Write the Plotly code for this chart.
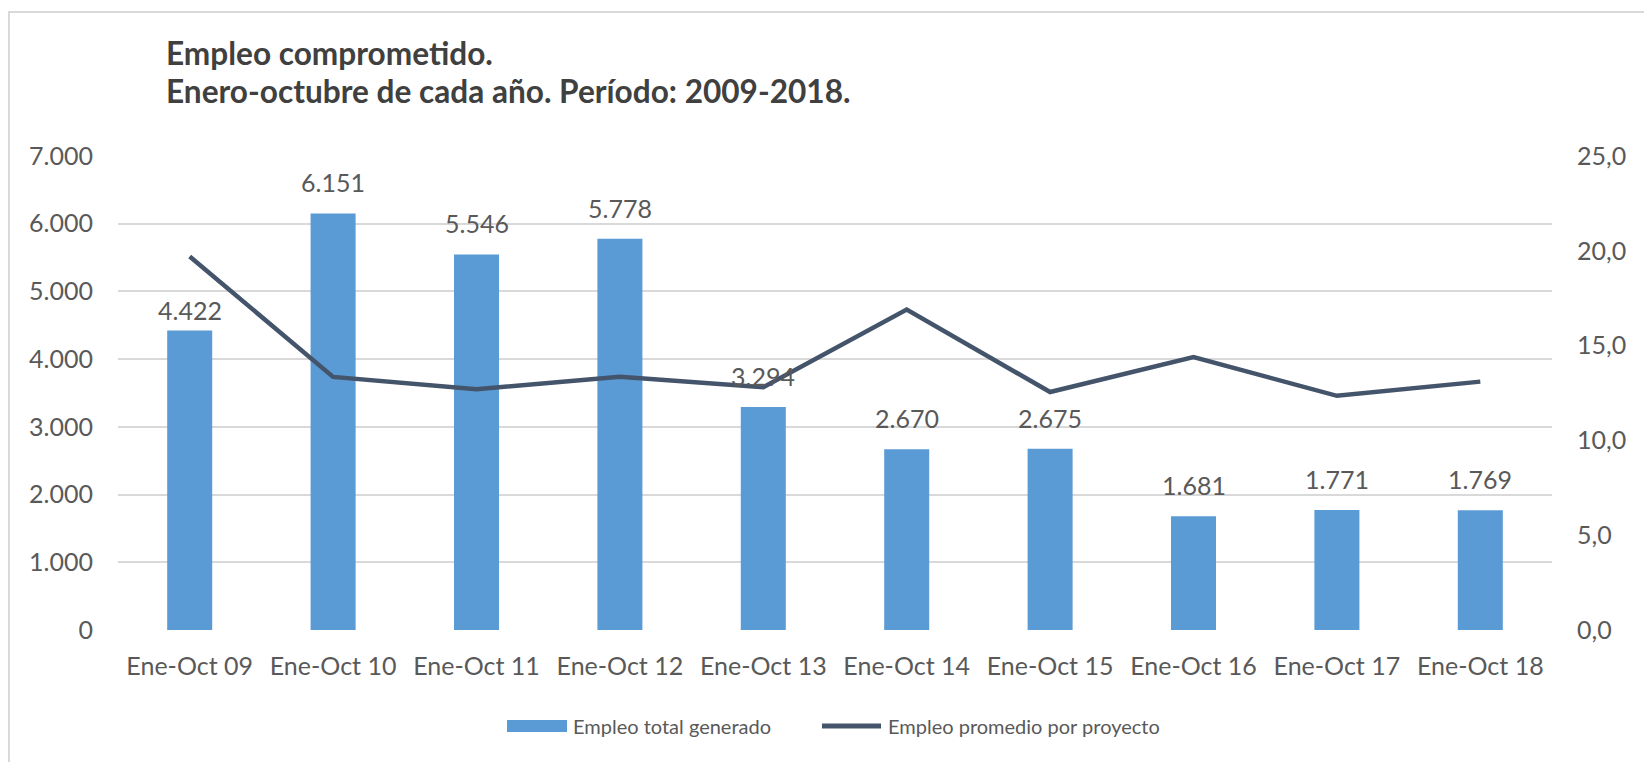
import plotly.graph_objects as go

categories = ["Ene-Oct 09", "Ene-Oct 10", "Ene-Oct 11", "Ene-Oct 12", "Ene-Oct 13",
              "Ene-Oct 14", "Ene-Oct 15", "Ene-Oct 16", "Ene-Oct 17", "Ene-Oct 18"]
empleo_total = [4422, 6151, 5546, 5778, 3294, 2670, 2675, 1681, 1771, 1769]
empleo_promedio = [19.7, 13.35, 12.7, 13.35, 12.8, 16.9, 12.55, 14.4, 12.35, 13.1]
left_ticks = [0, 1000, 2000, 3000, 4000, 5000, 6000, 7000]
right_ticks = [0, 5, 10, 15, 20, 25]
title_lines = ["Empleo comprometido.", "Enero-octubre de cada año. Período: 2009-2018."]
legend_names = ["Empleo total generado", "Empleo promedio por proyecto"]

# vertical gap (px) of each bar's value label above its bar (style only)
label_gap = [4, 14, 14, 14, 14, 14, 14, 14, 14, 14]

W, H = 1644, 762
L, R, T, B = 118, 1552, 156, 630
BAR = "#5b9bd5"
LINE = "#44546a"
TXT = "#595959"
FONT = "Lato"

def px(x):
    return (x - L) / (R - L)

def py(y):
    return (B - y) / (B - T)

fig = go.Figure()
fig.add_trace(go.Bar(
    x=categories, y=empleo_total, name=legend_names[0],
    marker=dict(color=BAR, line=dict(width=0)),
    showlegend=False,
))
fig.add_trace(go.Scatter(
    x=categories, y=empleo_promedio, name=legend_names[1], yaxis="y2",
    mode="lines", line=dict(color=LINE, width=4.5), showlegend=False,
))

shapes = [
    dict(type="rect", xref="paper", yref="paper",
         x0=px(9), x1=px(1700), y0=py(800), y1=py(12),
         line=dict(color="#d9d9d9", width=2), fillcolor="rgba(0,0,0,0)", layer="below"),
    dict(type="rect", xref="paper", yref="paper",
         x0=px(507), x1=px(567), y0=py(732), y1=py(720),
         line=dict(width=0), fillcolor=BAR),
    dict(type="line", xref="paper", yref="paper",
         x0=px(822), x1=px(881), y0=py(726), y1=py(726),
         line=dict(color=LINE, width=5)),
]

annotations = [
    dict(text="<b>" + title_lines[0] + "</b>", xref="paper", yref="paper",
         x=px(164), y=py(53), xanchor="left", yanchor="middle", showarrow=False,
         font=dict(family=FONT, size=31.6, color="#404040")),
    dict(text="<b>" + title_lines[1] + "</b>", xref="paper", yref="paper",
         x=px(164), y=py(91), xanchor="left", yanchor="middle", showarrow=False,
         font=dict(family=FONT, size=31.6, color="#404040")),
    dict(text=legend_names[0], xref="paper", yref="paper",
         x=px(571), y=py(726), xanchor="left", yanchor="middle", showarrow=False,
         font=dict(family=FONT, size=20, color=TXT)),
    dict(text=legend_names[1], xref="paper", yref="paper",
         x=px(886), y=py(726), xanchor="left", yanchor="middle", showarrow=False,
         font=dict(family=FONT, size=20, color=TXT)),
]

for cat, val, gap in zip(categories, empleo_total, label_gap):
    annotations.append(dict(
        x=cat, y=val, xref="x", yref="y", text=f"{val:,}".replace(",", "."),
        showarrow=False, xanchor="center", yanchor="bottom", yshift=gap,
        font=dict(family=FONT, size=25, color=TXT),
    ))

fig.update_layout(
    width=W, height=H,
    margin=dict(l=L, r=W - R, t=T, b=H - B, pad=0),
    paper_bgcolor="white", plot_bgcolor="white",
    separators=",.",
    bargap=0.686,
    showlegend=False,
    font=dict(family=FONT, size=25, color=TXT),
    xaxis=dict(showgrid=False, showline=False, zeroline=False, ticks="",
               tickfont=dict(family=FONT, size=25, color=TXT),
               ticklabelstandoff=19),
    yaxis=dict(range=[0, 7000], tickvals=left_ticks, tickformat=",d",
               showgrid=True, gridcolor="#d9d9d9", gridwidth=1.5,
               zeroline=False, showline=False, ticks="",
               tickfont=dict(family=FONT, size=25, color=TXT),
               ticklabelstandoff=24),
    yaxis2=dict(range=[0, 25], tickvals=right_ticks, tickformat=".1f",
                overlaying="y", side="right", showgrid=False, zeroline=False,
                showline=False, ticks="",
                tickfont=dict(family=FONT, size=25, color=TXT),
                ticklabelstandoff=24),
    shapes=shapes,
    annotations=annotations,
)

fig.write_html(
    "out.html",
    config={"displayModeBar": False},
    post_script="document.body.style.margin='0px';document.body.style.overflow='hidden';",
)
